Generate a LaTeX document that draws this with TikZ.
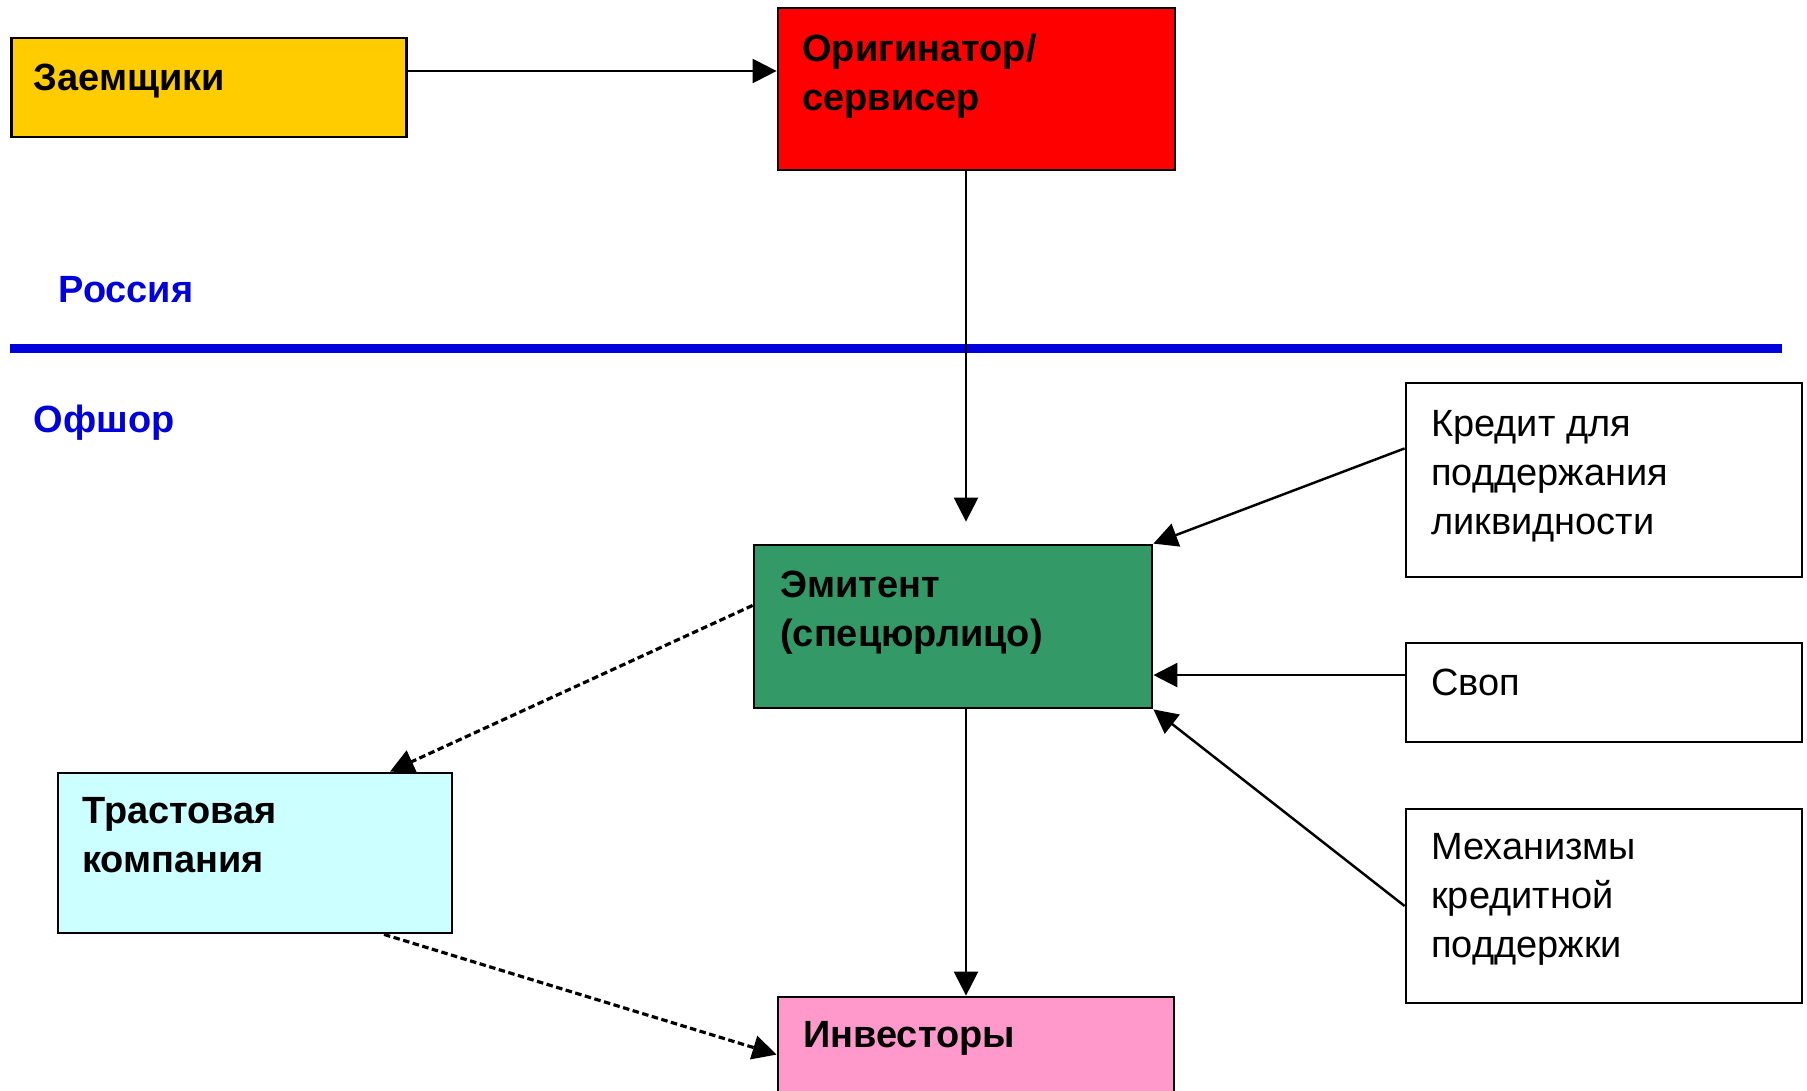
\documentclass[tikz,border=0pt]{standalone}
\usepackage{fontspec}
\setmainfont{Liberation Sans}
\usetikzlibrary{arrows.meta}

\definecolor{zaemfill}{HTML}{FFCC00}
\definecolor{origfill}{HTML}{FF0000}
\definecolor{emitfill}{HTML}{339966}
\definecolor{trustfill}{HTML}{CCFFFF}
\definecolor{invfill}{HTML}{FF99CC}
\definecolor{borderblue}{RGB}{0,0,220}
\newcommand{\boxfont}{\fontsize{10.8pt}{13.9pt}\selectfont}

\begin{document}
\begin{tikzpicture}[
  box/.style={draw=black, line width=0.8pt, inner sep=0pt, minimum width=3.96cm},
  txt/.style={anchor=north west, inner sep=0pt, align=left, font=\boxfont},
  boldtxt/.style={txt, font=\boxfont\bfseries},
  arr/.style={-{Triangle[length=0.24cm,width=0.24cm]}, line width=0.7pt},
  dasharr/.style={arr, line width=0.9pt, dash pattern=on 0.065cm off 0.035cm}
]

  \useasboundingbox (0,0) rectangle (18.07,10.90);

  \draw[line width=0.09cm, borderblue] (0.10,7.42) -- (17.82,7.42);
  \node[boldtxt, anchor=base west, text=borderblue] (rus) at (0.58,7.88) {Россия};
  \node[boldtxt, anchor=base west, text=borderblue] (offsh) at (0.33,6.58) {Офшор};

  \node[box, fill=zaemfill, minimum width=3.95cm, minimum height=0.99cm] (zaem) at (2.09,10.025) {};
  \node[boldtxt] (zaemtxt) at ([xshift=0.23cm,yshift=-0.27cm]zaem.north west) {Заемщики};

  \node[box, fill=origfill, minimum width=3.97cm, minimum height=1.62cm] (orig) at (9.765,10.01) {};
  \node[boldtxt] (origtxt) at ([xshift=0.25cm,yshift=-0.27cm]orig.north west) {Оригинатор/\\сервисер};

  \node[box, fill=emitfill, minimum width=3.98cm, minimum height=1.63cm] (emit) at (9.53,4.635) {};
  \node[boldtxt] (emittxt) at ([xshift=0.27cm,yshift=-0.27cm]emit.north west) {Эмитент\\(спецюрлицо)};

  \node[box, fill=trustfill, minimum width=3.94cm, minimum height=1.60cm] (trust) at (2.55,2.37) {};
  \node[boldtxt] (trusttxt) at ([xshift=0.25cm,yshift=-0.25cm]trust.north west) {Трастовая\\компания};

  \node[box, fill=invfill, minimum height=1.60cm] (inv) at (9.76,0.13) {};
  \node[boldtxt] (invtxt) at ([xshift=0.26cm,yshift=-0.25cm]inv.north west) {Инвесторы};

  \node[box, fill=white, minimum height=1.94cm] (kred) at (16.04,6.10) {};
  \node[txt] (kredtxt) at ([xshift=0.26cm,yshift=-0.28cm]kred.north west) {Кредит для\\поддержания\\ликвидности};

  \node[box, fill=white, minimum height=0.99cm] (svop) at (16.04,3.975) {};
  \node[txt] (svoptxt) at ([xshift=0.26cm,yshift=-0.27cm]svop.north west) {Своп};

  \node[box, fill=white, minimum height=1.94cm] (mech) at (16.04,1.84) {};
  \node[txt] (mechtxt) at ([xshift=0.26cm,yshift=-0.25cm]mech.north west) {Механизмы\\кредитной\\поддержки};

  \coordinate (feed) at (0,10.19);
  \coordinate (spine) at (9.66,0);

  \draw[arr] (zaem.east |- feed) -- (orig.west |- feed);
  \draw[arr, shorten >=0.22cm] (orig.south -| spine) -- (emit.north -| spine);
  \draw[arr] (emit.south -| spine) -- (inv.north -| spine);

  \draw[arr] (kred.171) -- (emit.north east);
  \draw[arr] (svop.175) -- (emit.east |- svop.175);
  \draw[arr] (mech.west) -- (emit.south east);

  \draw[dasharr] (emit.174.7) -- ([xshift=1.35cm]trust.north);
  \draw[dasharr] ([xshift=1.29cm]trust.south) -- ([yshift=-0.59cm]inv.north west);

\end{tikzpicture}
\end{document}
